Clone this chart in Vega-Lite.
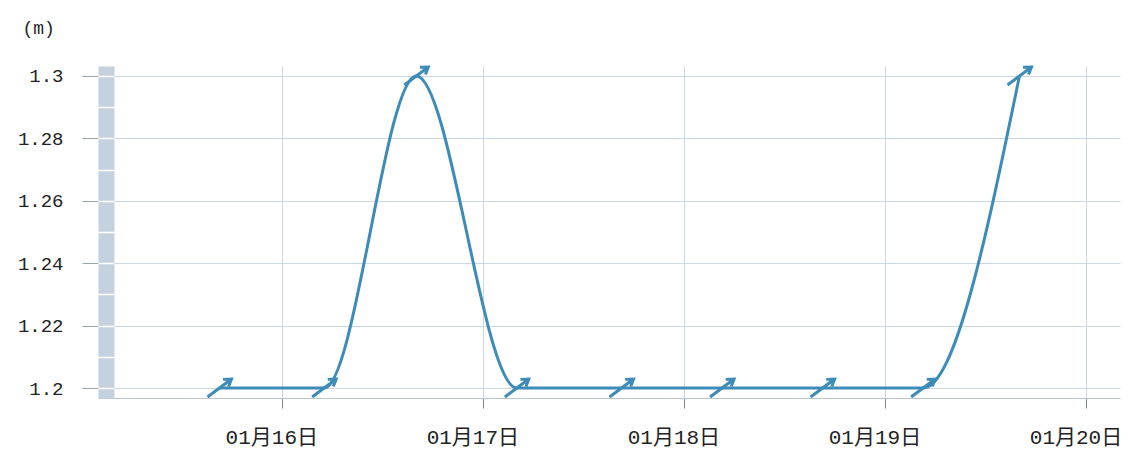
{
  "$schema": "https://vega.github.io/schema/vega-lite/v6.json",
  "width": 1022,
  "height": 332,
  "autosize": {"type": "none"},
  "padding": {"left": 98, "top": 66, "right": 9, "bottom": 55},
  "background": "white",
  "config": {"view": {"stroke": null}, "font": "Liberation Mono, Noto Sans CJK SC"},
  "data": {
    "values": [
      {"t": "2024-01-15T16:30:00", "v": 1.2},
      {"t": "2024-01-16T05:00:00", "v": 1.2},
      {"t": "2024-01-16T16:00:00", "v": 1.3},
      {"t": "2024-01-17T04:00:00", "v": 1.2},
      {"t": "2024-01-17T16:30:00", "v": 1.2},
      {"t": "2024-01-18T04:30:00", "v": 1.2},
      {"t": "2024-01-18T16:30:00", "v": 1.2},
      {"t": "2024-01-19T04:30:00", "v": 1.2},
      {"t": "2024-01-19T16:00:00", "v": 1.3}
    ]
  },
  "encoding": {
    "x": {
      "field": "t",
      "type": "temporal",
      "scale": {"domain": [
        {"year": 2024, "month": 1, "date": 15, "hours": 2},
        {"year": 2024, "month": 1, "date": 20, "hours": 4}
      ]},
      "axis": {
        "title": null,
        "format": "%m月%d日",
        "values": [
          {"year": 2024, "month": 1, "date": 16},
          {"year": 2024, "month": 1, "date": 17},
          {"year": 2024, "month": 1, "date": 18},
          {"year": 2024, "month": 1, "date": 19},
          {"year": 2024, "month": 1, "date": 20}
        ],
        "grid": true,
        "gridColor": "#cad6e2",
        "domainColor": "#b9c5d1",
        "tickColor": "#7d8791",
        "tickSize": 10,
        "labelFontSize": 21,
        "labelPadding": 18,
        "labelOffset": -11,
        "labelColor": "#222222",
        "labelFlush": false,
        "zindex": 0
      }
    }
  },
  "layer": [
    {
      "mark": {"type": "line", "interpolate": "monotone", "color": "#3d8bb8", "strokeWidth": 3},
      "encoding": {
        "y": {
          "field": "v",
          "type": "quantitative",
          "scale": {"domain": [1.1968, 1.3032], "zero": false, "nice": false},
          "axis": {
            "orient": "left",
            "values": [1.2, 1.22, 1.24, 1.26, 1.28, 1.3],
            "format": ".2~f",
            "grid": true,
            "gridColor": "#cad6e2",
            "domain": false,
            "tickColor": "#9aa4ae",
            "tickSize": 16,
            "labelPadding": 19,
            "labelFontSize": 19,
            "labelColor": "#222222",
            "title": "(m)",
            "titleAngle": 0,
            "titleX": -76,
            "titleY": -38,
            "titleAlign": "left",
            "titleBaseline": "middle",
            "titleFontSize": 18,
            "titleFontWeight": "normal",
            "titleColor": "#222222",
            "zindex": 0
          }
        }
      }
    },
    {
      "mark": {
        "type": "point",
        "shape": "M-1,0.75L1,-0.75M0.3,-0.72L1,-0.75L0.76,-0.12",
        "size": 576,
        "filled": false,
        "color": "#3d8bb8",
        "strokeWidth": 3,
        "opacity": 1
      },
      "encoding": {
        "y": {
          "field": "v",
          "type": "quantitative",
          "scale": {"domain": [1.1968, 1.3032], "zero": false, "nice": false},
          "axis": {
            "orient": "left",
            "offset": -8,
            "domain": true,
            "domainWidth": 16,
            "domainColor": "#c4d2e0",
            "ticks": false,
            "labels": false,
            "grid": false,
            "title": null,
            "zindex": 1
          }
        }
      }
    },
    {
      "mark": {"type": "point", "opacity": 0},
      "encoding": {
        "y": {
          "field": "v",
          "type": "quantitative",
          "scale": {"domain": [1.1968, 1.3032], "zero": false, "nice": false},
          "axis": {
            "orient": "left",
            "offset": -16,
            "domain": false,
            "ticks": true,
            "tickColor": "#ffffff",
            "tickWidth": 1.5,
            "tickSize": 16,
            "values": [1.2, 1.21, 1.22, 1.23, 1.24, 1.25, 1.26, 1.27, 1.28, 1.29, 1.3],
            "labels": false,
            "grid": false,
            "title": null,
            "zindex": 2
          }
        }
      }
    }
  ],
  "resolve": {"axis": {"y": "independent"}}
}
